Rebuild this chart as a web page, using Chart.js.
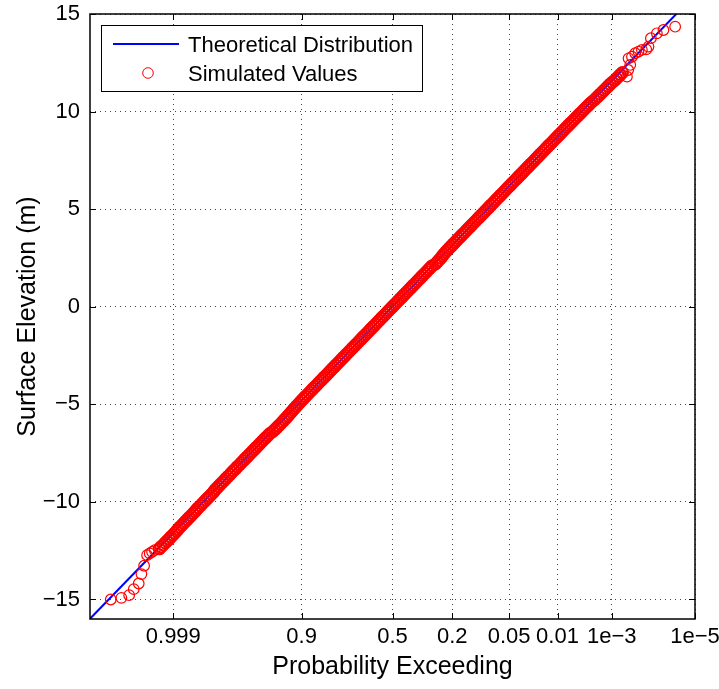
<!DOCTYPE html>
<html><head><meta charset="utf-8">
<script src="https://cdn.jsdelivr.net/npm/chart.js@4"></script>
<style>html,body{margin:0;padding:0;background:#fff}canvas{display:block}</style>
</head><body><canvas id="c" width="719" height="689"></canvas>
<script>
// ---- data ----
const xTickProbs = [0.999, 0.9, 0.5, 0.2, 0.05, 0.01, 1e-3, 1e-5];
const xTickLabels = ['0.999', '0.9', '0.5', '0.2', '0.05', '0.01', '1e\u22123', '1e\u22125'];
const xAxisProbRange = [0.99999, 1e-5];
const yTicks = [-15, -10, -5, 0, 5, 10, 15];
const yRange = [-16, 15];

// theoretical line (normal score -> elevation)
const theoryZ = [-4.2649, 4.2649];
const theoryElev = [-15.99, 15.99];

// simulated values: normal score (x position) and elevation (m)
const lowTailZ = [-3.972, -3.822, -3.713, -3.648, -3.578, -3.540, -3.502, -3.460, -3.423, -3.390, -3.353];
const lowTailElev = [-15.00, -14.92, -14.78, -14.47, -14.18, -13.70, -13.27, -12.73, -12.64, -12.56, -12.47];

const bodyZ = [
-3.287,-3.262,-3.231,-3.205,-3.178,-3.150,-3.126,-3.098,-3.072,-3.046,
-3.024,-2.999,-2.971,-2.946,-2.919,-2.893,-2.866,-2.839,-2.813,-2.786,
-2.764,-2.738,-2.709,-2.684,-2.657,-2.631,-2.604,-2.578,-2.551,-2.524,
-2.505,-2.479,-2.452,-2.428,-2.399,-2.372,-2.348,-2.320,-2.292,-2.268,
-2.241,-2.212,-2.188,-2.159,-2.133,-2.106,-2.081,-2.052,-2.027,-1.999,
-1.972,-1.946,-1.919,-1.892,-1.866,-1.838,-1.811,-1.784,-1.757,-1.730,
-1.689,-1.660,-1.632,-1.605,-1.578,-1.552,-1.527,-1.501,-1.476,-1.452,
-1.428,-1.404,-1.380,-1.355,-1.330,-1.305,-1.279,-1.253,-1.227,-1.200,
-1.173,-1.146,-1.121,-1.093,-1.066,-1.041,-1.013,-0.986,-0.961,-0.933,
-0.906,-0.880,-0.854,-0.826,-0.800,-0.774,-0.746,-0.720,-0.694,-0.666,
-0.641,-0.613,-0.586,-0.561,-0.533,-0.507,-0.479,-0.453,-0.428,-0.400,
-0.374,-0.346,-0.320,-0.294,-0.266,-0.240,-0.214,-0.186,-0.160,-0.134,
-0.106,-0.080,-0.054,-0.026,0.000,0.027,0.054,0.080,0.106,0.134,
0.160,0.186,0.213,0.241,0.266,0.293,0.321,0.346,0.374,0.400,
0.427,0.453,0.481,0.507,0.533,0.561,0.607,0.633,0.658,0.683,
0.703,0.724,0.748,0.774,0.800,0.827,0.853,0.880,0.906,0.933,
0.960,0.986,1.014,1.040,1.066,1.094,1.120,1.146,1.174,1.200,
1.226,1.254,1.280,1.306,1.334,1.360,1.386,1.414,1.440,1.466,
1.494,1.520,1.546,1.574,1.600,1.626,1.654,1.680,1.706,1.734,
1.760,1.786,1.814,1.840,1.866,1.894,1.920,1.946,1.974,2.001,
2.027,2.054,2.080,2.106,2.134,2.160,2.186,2.214,2.241,2.268,
2.294,2.321,2.348,2.374,2.401,2.428,2.455,2.482,2.509,2.536,
2.564,2.591,2.618,2.646,2.673,2.700,2.728,2.756,2.783,2.811,
2.847,2.874,2.902,2.930,2.957,2.985,3.013,3.040,3.068,3.096,
3.133,3.160,3.188,3.214,3.241];
const bodyElev = [
-12.4,-12.3,-12.2,-12.1,-12.0,-11.9,-11.8,-11.7,-11.6,-11.5,
-11.4,-11.3,-11.2,-11.1,-11.0,-10.9,-10.8,-10.7,-10.6,-10.5,
-10.4,-10.3,-10.2,-10.1,-10.0,-9.9,-9.8,-9.7,-9.6,-9.5,
-9.4,-9.3,-9.2,-9.1,-9.0,-8.9,-8.8,-8.7,-8.6,-8.5,
-8.4,-8.3,-8.2,-8.1,-8.0,-7.9,-7.8,-7.7,-7.6,-7.5,
-7.4,-7.3,-7.2,-7.1,-7.0,-6.9,-6.8,-6.7,-6.6,-6.5,
-6.4,-6.3,-6.2,-6.1,-6.0,-5.9,-5.8,-5.7,-5.6,-5.5,
-5.4,-5.3,-5.2,-5.1,-5.0,-4.9,-4.8,-4.7,-4.6,-4.5,
-4.4,-4.3,-4.2,-4.1,-4.0,-3.9,-3.8,-3.7,-3.6,-3.5,
-3.4,-3.3,-3.2,-3.1,-3.0,-2.9,-2.8,-2.7,-2.6,-2.5,
-2.4,-2.3,-2.2,-2.1,-2.0,-1.9,-1.8,-1.7,-1.6,-1.5,
-1.4,-1.3,-1.2,-1.1,-1.0,-0.9,-0.8,-0.7,-0.6,-0.5,
-0.4,-0.3,-0.2,-0.1,0.0,0.1,0.2,0.3,0.4,0.5,
0.6,0.7,0.8,0.9,1.0,1.1,1.2,1.3,1.4,1.5,
1.6,1.7,1.8,1.9,2.0,2.1,2.2,2.3,2.4,2.5,
2.6,2.7,2.8,2.9,3.0,3.1,3.2,3.3,3.4,3.5,
3.6,3.7,3.8,3.9,4.0,4.1,4.2,4.3,4.4,4.5,
4.6,4.7,4.8,4.9,5.0,5.1,5.2,5.3,5.4,5.5,
5.6,5.7,5.8,5.9,6.0,6.1,6.2,6.3,6.4,6.5,
6.6,6.7,6.8,6.9,7.0,7.1,7.2,7.3,7.4,7.5,
7.6,7.7,7.8,7.9,8.0,8.1,8.2,8.3,8.4,8.5,
8.6,8.7,8.8,8.9,9.0,9.1,9.2,9.3,9.4,9.5,
9.6,9.7,9.8,9.9,10.0,10.1,10.2,10.3,10.4,10.5,
10.6,10.7,10.8,10.9,11.0,11.1,11.2,11.3,11.4,11.5,
11.6,11.7,11.8,11.9,12.0];

const upTailZ = [3.305, 3.323, 3.352, 3.328, 3.376, 3.422, 3.468, 3.516, 3.577, 3.609, 3.643, 3.727, 3.820, 3.985];
const upTailElev = [11.79, 12.13, 12.39, 12.73, 12.81, 12.99, 13.07, 13.16, 13.19, 13.33, 13.76, 14.01, 14.18, 14.35];

// ---- helpers ----
function normInv(p){
  const a=[-3.969683028665376e+01,2.209460984245205e+02,-2.759285104469687e+02,1.383577518672690e+02,-3.066479806614716e+01,2.506628277459239e+00];
  const b=[-5.447609879822406e+01,1.615858368580409e+02,-1.556989798598866e+02,6.680131188771972e+01,-1.328068155288572e+01];
  const c=[-7.784894002430293e-03,-3.223964580411365e-01,-2.400758277161838e+00,-2.549732539343734e+00,4.374664141464968e+00,2.938163982698783e+00];
  const d=[7.784695709041462e-03,3.224671290700398e-01,2.445134137142996e+00,3.754408661907416e+00];
  const pl=0.02425, ph=1-pl; let q,r;
  if(p<pl){q=Math.sqrt(-2*Math.log(p));return (((((c[0]*q+c[1])*q+c[2])*q+c[3])*q+c[4])*q+c[5])/((((d[0]*q+d[1])*q+d[2])*q+d[3])*q+1);}
  if(p>ph){q=Math.sqrt(-2*Math.log(1-p));return -(((((c[0]*q+c[1])*q+c[2])*q+c[3])*q+c[4])*q+c[5])/((((d[0]*q+d[1])*q+d[2])*q+d[3])*q+1);}
  q=p-0.5;r=q*q;return (((((a[0]*r+a[1])*r+a[2])*r+a[3])*r+a[4])*r+a[5])*q/(((((b[0]*r+b[1])*r+b[2])*r+b[3])*r+b[4])*r+1);
}
const exceedToZ = p => -normInv(p);
const pairs = (xs, ys) => xs.map((v, i) => ({x: v, y: ys[i]}));

const FONT = "'Liberation Sans', Arial, Helvetica, sans-serif";
const tailPoints = [].concat(pairs(lowTailZ, lowTailElev), pairs(upTailZ, upTailElev));
const bodyPoints = pairs(bodyZ, bodyElev);

const framePlugin = {
  id: 'frame',
  afterDatasetsDraw(chart){
    const {ctx, chartArea: a, scales: {x, y}} = chart;
    ctx.save();
    ctx.strokeStyle = '#000'; ctx.lineWidth = 1;
    const tl = 6;
    ctx.beginPath();
    x.ticks.forEach(t => {
      const px = Math.round(x.getPixelForValue(t.value)) + 0.5;
      ctx.moveTo(px, a.bottom); ctx.lineTo(px, a.bottom - tl);
      ctx.moveTo(px, a.top); ctx.lineTo(px, a.top + tl);
    });
    y.ticks.forEach(t => {
      const py = Math.round(y.getPixelForValue(t.value)) + 0.5;
      ctx.moveTo(a.left, py); ctx.lineTo(a.left + tl, py);
      ctx.moveTo(a.right, py); ctx.lineTo(a.right - tl, py);
    });
    ctx.stroke();
    ctx.lineWidth = 1.5;
    ctx.strokeRect(a.left, a.top, a.right - a.left, a.bottom - a.top);
    ctx.restore();
  },
  afterDraw(chart){
    const {ctx, chartArea: a} = chart;
    const ds = chart.data.datasets;
    ctx.save();
    const bx = a.left + 11, by = a.top + 11, bw = 321, bh = 66;
    ctx.fillStyle = '#fff'; ctx.fillRect(bx, by, bw, bh);
    ctx.strokeStyle = '#000'; ctx.lineWidth = 1;
    ctx.strokeRect(bx + 0.5, by + 0.5, bw, bh);
    ctx.strokeStyle = ds[0].borderColor; ctx.lineWidth = 2;
    ctx.beginPath(); ctx.moveTo(bx + 12, by + 19); ctx.lineTo(bx + 78, by + 19); ctx.stroke();
    ctx.strokeStyle = ds[1].borderColor; ctx.lineWidth = 1;
    ctx.beginPath(); ctx.arc(bx + 47, by + 48, 5.3, 0, Math.PI * 2); ctx.stroke();
    ctx.fillStyle = '#000'; ctx.font = "22px " + FONT; ctx.textBaseline = 'middle'; ctx.textAlign = 'left';
    ctx.fillText(ds[0].label, bx + 87, by + 21);
    ctx.fillText(ds[1].label, bx + 87, by + 50);
    ctx.restore();
  }
};

new Chart(document.getElementById('c'), {
  type: 'scatter',
  data: {
    datasets: [
      {label: 'Theoretical Distribution', data: pairs(theoryZ, theoryElev), showLine: true,
       borderColor: '#0000ff', borderWidth: 2, pointRadius: 0, fill: false, order: 3},
      {label: 'Simulated Values', data: tailPoints, borderColor: '#ff0000', backgroundColor: 'rgba(0,0,0,0)',
       pointRadius: 5.3, borderWidth: 1.2, pointStyle: 'circle', order: 1},
      {label: 'Simulated Values', data: bodyPoints, borderColor: '#ff0000', backgroundColor: 'rgba(0,0,0,0)',
       pointRadius: 5.6, borderWidth: 2, pointStyle: 'circle', order: 2}
    ]
  },
  options: {
    responsive: false, animation: false, devicePixelRatio: 1,
    layout: {padding: {top: 14, right: 24, left: 0, bottom: 0}},
    plugins: {legend: {display: false}, tooltip: {enabled: false}},
    scales: {
      x: {
        type: 'linear', min: exceedToZ(xAxisProbRange[0]), max: exceedToZ(xAxisProbRange[1]),
        afterBuildTicks: s => { s.ticks = xTickProbs.map(p => ({value: exceedToZ(p)})); },
        afterFit: s => { s.height = 70; s.paddingLeft = 0; s.paddingRight = 0; },
        ticks: {callback: (v, i) => xTickLabels[i], color: '#000', font: {family: FONT, size: 22},
                padding: 5, maxRotation: 0, minRotation: 0, autoSkip: false},
        grid: {color: '#444', lineWidth: 1, drawTicks: false},
        border: {display: false, dash: [1, 4]},
        title: {display: true, text: 'Probability Exceeding', color: '#000', font: {family: FONT, size: 25}, padding: {top: 0, bottom: 7}}
      },
      y: {
        type: 'linear', min: yRange[0], max: yRange[1],
        afterBuildTicks: s => { s.ticks = yTicks.map(v => ({value: v})); },
        afterFit: s => { s.width = 90; s.paddingTop = 0; s.paddingBottom = 0; },
        ticks: {callback: v => String(v).replace('-', '\u2212'), color: '#000', font: {family: FONT, size: 22}, padding: 10},
        grid: {color: '#444', lineWidth: 1, drawTicks: false},
        border: {display: false, dash: [1, 4]},
        title: {display: true, text: 'Surface Elevation (m)', color: '#000', font: {family: FONT, size: 25}, padding: {top: 13, bottom: 0}}
      }
    }
  },
  plugins: [framePlugin]
});
</script>
</body></html>
